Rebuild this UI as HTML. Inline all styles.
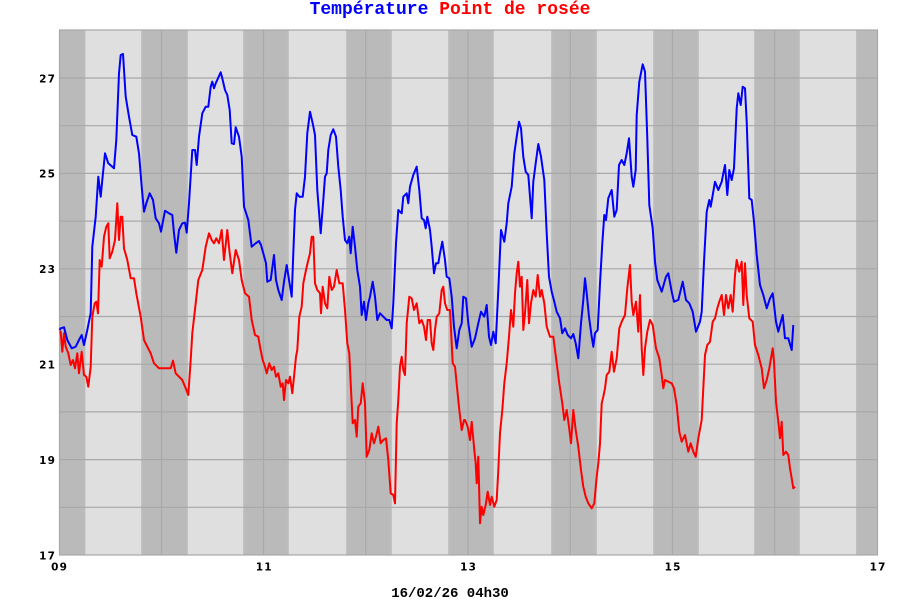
<!DOCTYPE html>
<html><head><meta charset="utf-8"><style>
html,body{margin:0;padding:0;background:#fff;}
svg{display:block;}
</style></head><body>
<svg width="900" height="600" viewBox="0 0 900 600" xmlns="http://www.w3.org/2000/svg">
<defs>
<linearGradient id="band" x1="0" x2="1" y1="0" y2="0">
<stop offset="0" stop-color="#c6c6c6"/>
<stop offset="0.04" stop-color="#bababa"/>
<stop offset="0.96" stop-color="#bababa"/>
<stop offset="1" stop-color="#c6c6c6"/>
</linearGradient>
</defs>
<rect x="0" y="0" width="900" height="600" fill="#ffffff"/>
<rect x="59.5" y="30" width="818" height="525" fill="#dfdfdf"/>
<g fill="url(#band)">
<rect x="59.5" y="30" width="26" height="525"/>
<rect x="141" y="30" width="47" height="525"/>
<rect x="243" y="30" width="46" height="525"/>
<rect x="346" y="30" width="46" height="525"/>
<rect x="448" y="30" width="46" height="525"/>
<rect x="551" y="30" width="46" height="525"/>
<rect x="653" y="30" width="46" height="525"/>
<rect x="754" y="30" width="46" height="525"/>
<rect x="856" y="30" width="21.5" height="525"/>
</g>
<g stroke="#a8a8a8" stroke-width="1.2" fill="none">
<line x1="59.5" x2="877.5" y1="507.3" y2="507.3"/>
<line x1="59.5" x2="877.5" y1="459.6" y2="459.6"/>
<line x1="59.5" x2="877.5" y1="411.9" y2="411.9"/>
<line x1="59.5" x2="877.5" y1="364.2" y2="364.2"/>
<line x1="59.5" x2="877.5" y1="316.5" y2="316.5"/>
<line x1="59.5" x2="877.5" y1="268.8" y2="268.8"/>
<line x1="59.5" x2="877.5" y1="221.1" y2="221.1"/>
<line x1="59.5" x2="877.5" y1="173.4" y2="173.4"/>
<line x1="59.5" x2="877.5" y1="125.7" y2="125.7"/>
<line x1="59.5" x2="877.5" y1="78" y2="78"/>
<line y1="30" y2="555" x1="161.5" x2="161.5"/>
<line y1="30" y2="555" x1="263.5" x2="263.5"/>
<line y1="30" y2="555" x1="365.75" x2="365.75"/>
<line y1="30" y2="555" x1="468" x2="468"/>
<line y1="30" y2="555" x1="570.25" x2="570.25"/>
<line y1="30" y2="555" x1="672.5" x2="672.5"/>
<line y1="30" y2="555" x1="774.75" x2="774.75"/>
<rect x="59.5" y="30" width="818" height="525"/>
</g>
<polyline fill="none" stroke="#ff0000" stroke-width="2" stroke-linejoin="round" points="59.5,332 60.7,331.7 62.3,351.7 64,333.3 65.7,346.7 68.3,353.3 70.7,365 73,360 75,368.3 77.3,353.3 79,373.3 81.7,351.7 84,375 86.3,376.7 88.3,386.7 90.7,366.7 92.3,316.7 94.7,303.3 96.3,301.7 98,313.3 99.7,260 101.7,266.7 104,236.7 106.3,226.7 108.3,223.3 109.7,258.3 112.3,251.7 115,240 117.3,203.3 119,240 120.7,216.7 122.3,216.7 124,248.3 127.3,260 130.7,278.3 134,278.3 136.3,293.3 140.7,316.7 144,340 147.3,346.7 150.7,353.3 154,363.3 159,368.3 165.7,368.3 170.7,368.3 173,360.7 175.7,373.3 179,376.7 182.3,380 185.7,388.3 188.3,395 190.7,360 192.3,333.3 195.7,303.3 198.3,280 202.3,270 205.7,246.7 209,233.3 211.7,240 214,243.3 216.3,238.3 219,243.3 221.7,230 224,260 227.3,230 229.7,253.3 232.3,273.3 235.7,250 239,260 241.7,280 245,293.3 249,296.7 251.7,320 255,335 258.3,336.7 260,346.7 262.7,360 265,366.7 266.7,373.3 269.3,363.3 271.7,370 274,366.7 276,376.7 278.3,373.3 280.7,386.7 282.7,383.3 284,400 286,380 288.3,383.3 290,376.7 292.3,393.3 294,376.7 296,356.7 297.3,350 299.3,316.7 301.7,306.7 303.3,283.3 306,270 308.3,260 310,253.3 311.7,236.7 313.3,236.7 315,283.3 317.3,290 320,293.3 321,313.3 322.7,286.7 325,303.3 327.3,308.3 329.3,276.7 331.7,290 334,286.7 336.7,270 339.3,283.3 342.7,283.3 345,310 347.3,343.3 349.3,353.3 350.7,383.3 352.7,423.3 355,420 356.7,436.7 358.3,406.7 360.7,403.3 362.7,383.3 365,403.3 366.7,456.7 369.3,450 371.7,433.3 374,443.3 376,436.7 378.3,426.7 380.7,443.3 383.3,440 386,438.3 388.3,460 390.7,493.3 393.3,495 395,503.3 396.7,423.3 398.3,400 400,366.7 401.7,356.7 403.3,370 405,375 406.7,323.3 409.3,296.7 411.7,298.3 414,310 416.7,303.3 419.3,323.3 421.7,320 424,326.7 426,340 427.7,320 430,320 431.7,343.3 433.3,350 435,330 436.7,316.7 439.3,313.3 441.7,290 443.3,286.7 445,303.3 447.3,310 450,310 452.7,363.3 455,366.7 457.3,390 459.3,410 461.7,430 464,420 465,420 467.7,426.7 470,440 471.7,421.7 474.3,450 475.7,463.3 476.7,483.3 478.3,456.7 480,523.3 481.7,506.7 483.3,515 485.7,505 487.7,491.7 490,505 491.7,496.7 494.3,506.7 496.7,500 498.3,470 500,433.3 502.3,410 504.3,383.3 506.7,363.3 509,336.7 511,310 513.3,326.7 515,293.3 516.7,273.3 518.3,261.7 520,286.7 521.7,276.7 523.3,330 525,313.3 527.3,280 529,323.3 531,303.3 533.3,290 535.7,296.7 537.7,275 540,296.7 541.7,290 544.3,303.3 546.7,326.7 550,336.7 553.3,336.7 556.7,363.3 559.3,383.3 562.3,403.3 564.3,420 566.7,410 569,426.7 571,443.3 573.3,410 575.7,430 578.3,446.7 581,470 583.3,486.7 585.7,496.7 588.3,503.3 591.7,508.3 594.3,503.3 596.7,476.7 598.3,463.3 600,443.3 601.7,403.3 603.3,396.7 605,388.3 606.7,375 609.3,371.7 611.7,351.7 614,371.7 616.7,358.3 619.3,328.3 621.7,321.7 625,315 627.3,288.3 630,265 631.7,301.7 633.3,315 636,301.7 638.3,331.7 640,295 641.7,348.3 643.3,375 645,348.3 647.3,331.7 650,320 652.7,325 656,348.3 659.3,358.3 661.7,375 663.3,388.3 665,380 668.3,381.7 671.7,383.3 674,388.3 676.7,405 679.3,431.7 681.7,441.7 685,435 688.3,451.7 690.7,443.3 693.3,451.7 695.7,456.7 698.3,438.3 701.7,420 703.3,388.3 705,355 707.3,345 710,341.7 712.7,321.7 715,318.3 717.3,308.3 719.3,301.7 721.7,295 724,315 726,295 728.3,308.3 730.7,295 732.7,311.7 735,275 736.7,260 739.3,271.7 741.7,261.7 743.3,305 745,263.3 746.7,295 749.3,318.3 752.7,321.7 755,345 758.3,355 761.7,368.3 764,388.3 766.7,380 769.3,368.3 772.7,348.3 774,361.7 776,401.7 778.3,421.7 780,438.3 781.7,421.7 783.3,455 786,451.7 788.3,455 790,468.3 791.7,478.3 793.3,488.3 795,486.7"/>
<polyline fill="none" stroke="#0000ff" stroke-width="2" stroke-linejoin="round" points="59.5,330 60.7,328.3 64,327.3 67.3,340 71.7,348.3 75.7,346.7 79,340 81.7,335 84,345 87.3,330 90.7,313 92.3,246.7 95.7,216.7 98.3,176.7 100.7,196.7 102.3,180 105,153.3 108.3,163.3 114,168.3 116.3,140 119,73.3 120.7,55 123,54 125.7,96.7 129,116.7 132.3,135 136.3,136.7 139,153.3 141.7,186.7 144,211.7 146.3,203.3 149.7,193.3 153,200 155.7,218.3 159,223.3 161,231.7 165,210.7 169,213.3 172.3,215 174,233.3 176.3,252.7 179,230 182.3,223.3 185,222.7 186.7,232.7 189,203.3 192.3,150 195,150 196.7,165 199,136.7 202.3,113.3 205.7,106.7 208.3,106.7 210.7,86.7 212.3,81.7 214,88.3 215.7,83.3 218,78.3 220.7,72.3 222.3,78.3 225,90 227.3,95 229.7,110 231.7,143.3 234,144 235.7,127.3 239,136.7 241.7,156.7 244,206.7 248.3,220 251.7,246.7 255.7,243.3 259,241 261,245 263.3,253.3 266,263.3 267.3,281.7 270.7,280 274,255 276,280 278.3,290 281.7,300 284,281.7 286.7,265 289.3,281.7 291.7,296.7 293.3,253.3 295,210 296.7,193.3 299.3,196.7 302.7,196.7 305,176.7 307.3,133.3 310,111.7 312.7,123.3 315,135 317.3,190 320.7,233.3 323.3,200 325,176.7 326.7,173.3 328.3,150 330.7,135 333.3,129.3 336,136.7 338.3,166.7 340.7,190 342.7,216.7 345,240 347.3,243.3 349.3,236.7 350.7,253.3 352.7,226.7 355,246.7 357.3,270 360,286.7 361.7,315 364,301.7 366,320 368.3,303.3 370,296.7 372.7,281.7 375,296.7 377.3,320 380,313.3 383.3,316.7 386.7,320 389.3,320 391.7,328.3 393.3,303.3 396,243.3 398.3,210 401.7,213.3 403.3,196.7 406.7,193.3 408.3,203.3 410,186.7 413.3,175 416.7,166.7 419.3,190 421.7,218.3 424,220 425.7,228.3 427.3,216.7 430,230 431.7,246.7 434,273.3 436,263.3 438.3,263.3 440,253.3 442.3,241.7 445,260 446.7,276.7 449.3,278.3 451.7,296.7 454,326.7 456.7,348.3 459.3,330 461.7,323.3 463.3,296.7 466,298.3 468.3,323.3 471.7,346.7 475,338.3 478.3,323.3 481,311.7 484.3,316.7 486.7,305 489,336.7 491,345 493.3,331.7 495.7,343.3 498.3,290 501,230 504.3,241.7 506.7,223.3 508.3,203.3 511.7,186.7 514.3,153.3 516.7,136.7 519,121.7 521,128.3 523.3,156.7 525.7,171.7 528.3,175 531.7,218.3 533.3,181.7 535.7,163.3 538.3,144 541,156.7 544.3,180 546.7,233.3 549,276.7 551.7,291.7 554.3,301.7 556.7,311.7 560,318.3 562.3,333.3 565,328.3 567.7,335 571,338.3 573.3,334 575.7,343.3 578.3,358.3 581,323.3 583.3,300 585,278.3 586.7,293.3 589,316.7 591.7,336.7 593.3,346.7 595,333.3 597.7,330 600,283.3 602.3,243.3 604.3,215 606,220 608.3,198.3 611.7,190 614.3,216.7 616.7,210 619,165 621.7,160 624.3,165 626.7,153.3 629,138.3 631.7,176.7 633.3,186.7 635.7,170 636.7,115 639.3,81.7 642.7,64.3 645,71.7 647.3,138.3 649.3,205 652.7,228.3 655,261.7 657.3,280 661.7,291.7 666,276.7 668.3,273.3 671.7,291.7 674,301.7 678.3,300 682.7,281.7 686,300 689.3,303.3 692.7,311.7 696,331.7 700,321.7 701.7,311.7 704,261.7 706.7,211.7 709.3,200 710.7,206.7 713.3,191.7 715,181.7 718.3,190 721.7,181.7 725,165 727.3,195 729.3,170 731.7,180 734,168.3 736.7,108.3 738.3,93.3 740.7,105 742.7,86.7 745,88.3 746.7,121.7 749.3,198.3 751.7,200 754,221.7 756.7,255 760,285 763.3,295 766.7,308.3 770,298.3 772.7,293.3 776,321.7 778.3,331.7 780,325 782.7,315 785,338.3 788.3,338.3 791.7,350 793.3,325"/>
<g font-family="'DejaVu Sans', 'Liberation Sans', sans-serif" font-size="10.5" font-weight="bold" fill="#000" letter-spacing="1.2">
<g text-anchor="end">
<text x="56.2" y="82.5">27</text>
<text x="56.2" y="177.5">25</text>
<text x="56.2" y="273">23</text>
<text x="56.2" y="368.5">21</text>
<text x="56.2" y="464">19</text>
<text x="56.2" y="559.5">17</text>
</g>
<g text-anchor="middle">
<text x="59.6" y="570.5">09</text>
<text x="264.3" y="570.5">11</text>
<text x="468.6" y="570.5">13</text>
<text x="673.1" y="570.5">15</text>
<text x="878.1" y="570.5">17</text>
</g>
</g>
<text x="450" y="14" text-anchor="middle" font-family="'Liberation Mono', monospace" font-size="18" font-weight="bold"><tspan fill="#0000ff">Température</tspan><tspan fill="#ff0000"> Point de rosée</tspan></text>
<text x="450" y="597" text-anchor="middle" font-family="'Liberation Mono', monospace" font-size="14" font-weight="bold" fill="#000">16/02/26 04h30</text>
</svg>
</body></html>
